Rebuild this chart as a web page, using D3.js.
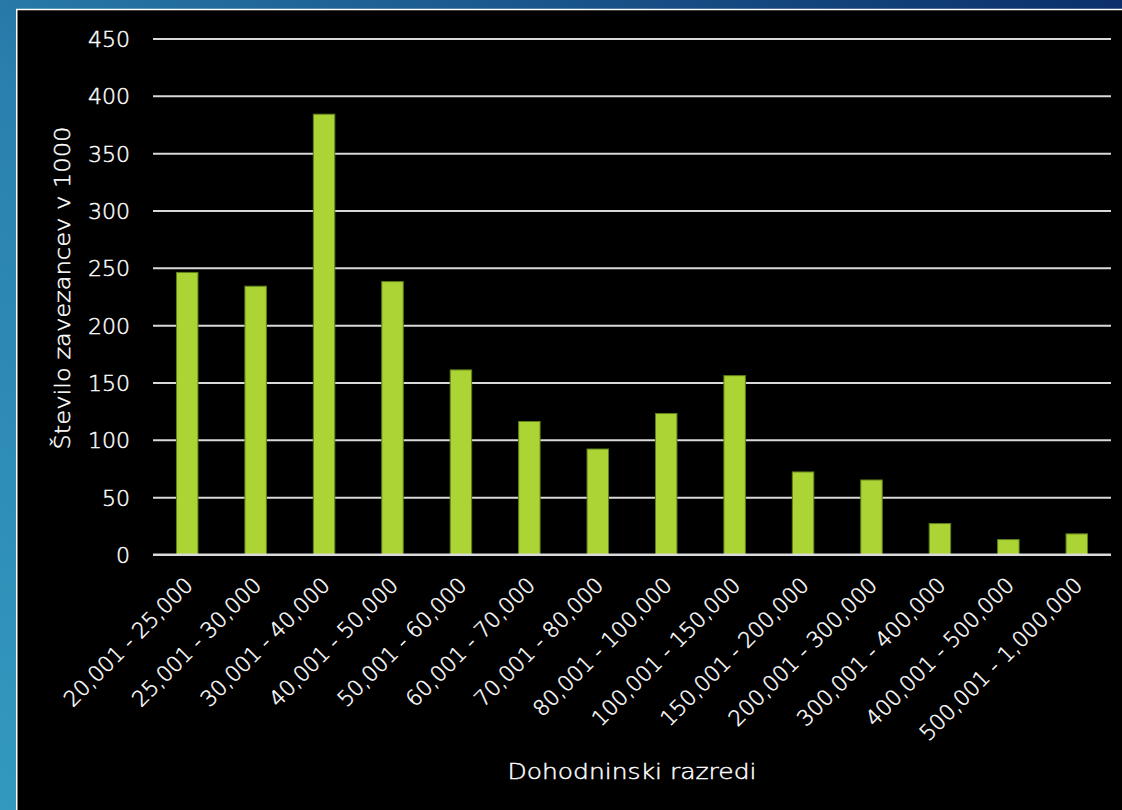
<!DOCTYPE html>
<html>
<head>
<meta charset="utf-8">
<script src="https://cdn.jsdelivr.net/npm/d3@7"></script>
<style>
  html, body { margin: 0; padding: 0; }
  body { width: 1122px; height: 810px; overflow: hidden; }
  svg { display: block; }
</style>
</head>
<body>
<svg id="chart" width="1122" height="810"></svg>
<script>
// Income brackets and number of taxpayers (in thousands)
const categories = [
  "20,001 - 25,000", "25,001 - 30,000", "30,001 - 40,000", "40,001 - 50,000",
  "50,001 - 60,000", "60,001 - 70,000", "70,001 - 80,000", "80,001 - 100,000",
  "100,001 - 150,000", "150,001 - 200,000", "200,001 - 300,000",
  "300,001 - 400,000", "400,001 - 500,000", "500,001 - 1,000,000"
];
const values = [246, 234, 384, 238, 161, 116, 92, 123, 156, 72, 65, 27, 13, 18];
const yTicks = [0, 50, 100, 150, 200, 250, 300, 350, 400, 450];
const yTitle = "Število zavezancev v 1000";
const xTitle = "Dohodninski razredi";

const W = 1122, H = 810;
const plot = { left: 153, right: 1111, top: 38.5, bottom: 554.5 };
const FONT = "'DejaVu Sans', 'Open Sans', sans-serif";
const WEIGHT = 200;

const svg = d3.select("#chart");

// Slide background: teal to navy gradient
const defs = svg.append("defs");
const grad = defs.append("linearGradient")
  .attr("id", "bg").attr("x1", "0").attr("y1", "1").attr("x2", "1").attr("y2", "0");
grad.append("stop").attr("offset", "0").attr("stop-color", "#3399bf");
grad.append("stop").attr("offset", "0.45").attr("stop-color", "#2a80ae");
grad.append("stop").attr("offset", "1").attr("stop-color", "#0b2f6b");
svg.append("rect").attr("width", W).attr("height", H).attr("fill", "url(#bg)");

// Chart panel
svg.append("rect")
  .attr("x", 16.75).attr("y", 9.5)
  .attr("width", W).attr("height", H)
  .attr("fill", "#000")
  .attr("stroke", "#ffffff").attr("stroke-width", 1.5);

const x = d3.scaleBand()
  .domain(categories)
  .range([plot.left, plot.right])
  .paddingInner(0.686)
  .paddingOuter(0.343);

const y = d3.scaleLinear()
  .domain([0, 450])
  .range([plot.bottom, plot.top]);

// Shared text styling: light white glyphs with a hairline stroke for weight
function styleText(sel, size) {
  sel.attr("fill", "#ffffff")
    .attr("stroke", "#ffffff")
    .attr("stroke-width", 0.45)
    .attr("font-family", FONT)
    .attr("font-weight", WEIGHT)
    .attr("font-size", size);
}

// Horizontal gridlines + y tick labels
const yAxis = d3.axisLeft(y)
  .tickValues(yTicks)
  .tickSize(-(plot.right - plot.left))
  .tickPadding(23)
  .tickFormat(d3.format("d"));

const gy = svg.append("g")
  .attr("transform", `translate(${plot.left},0)`)
  .call(yAxis);
gy.select(".domain").remove();
gy.selectAll(".tick line")
  .attr("stroke", "#d9d9d9")
  .attr("stroke-width", 2);
gy.selectAll(".tick text")
  .call(styleText, 22)
  .attr("dy", "0.36em");

// Bars
svg.append("g")
  .selectAll("rect")
  .data(values)
  .join("rect")
  .attr("x", (d, i) => x(categories[i]))
  .attr("y", d => y(d))
  .attr("width", x.bandwidth())
  .attr("height", d => y(0) - y(d))
  .attr("fill", "#acd434")
  .attr("stroke", "#5f7f1c")
  .attr("stroke-width", 1);

// Redraw the baseline on top of the bars
svg.append("line")
  .attr("x1", plot.left).attr("x2", plot.right)
  .attr("y1", y(0)).attr("y2", y(0))
  .attr("stroke", "#d9d9d9").attr("stroke-width", 2);

// Rotated category labels
const xAxis = d3.axisBottom(x).tickSize(0).tickPadding(0);
const gx = svg.append("g")
  .attr("transform", `translate(0,${plot.bottom})`)
  .call(xAxis);
gx.select(".domain").remove();
gx.selectAll(".tick text")
  .call(styleText, 21.5)
  .attr("text-anchor", "end")
  .attr("dy", 0)
  .attr("y", 0)
  .attr("transform", "translate(7,32) rotate(-45)");

// Axis titles
svg.append("text")
  .attr("transform", `translate(70,288) rotate(-90)`)
  .attr("text-anchor", "middle")
  .call(styleText, 22)
  .attr("textLength", 323)
  .attr("lengthAdjust", "spacingAndGlyphs")
  .text(yTitle);

svg.append("text")
  .attr("x", 632).attr("y", 779)
  .attr("text-anchor", "middle")
  .call(styleText, 22)
  .attr("textLength", 249)
  .attr("lengthAdjust", "spacingAndGlyphs")
  .text(xTitle);
</script>
</body>
</html>
